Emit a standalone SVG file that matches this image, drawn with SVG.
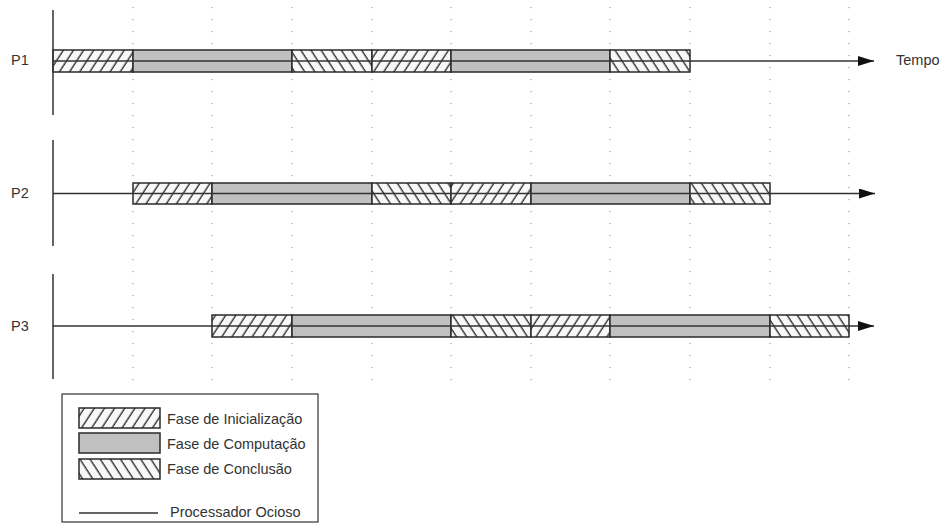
<svg xmlns="http://www.w3.org/2000/svg" width="944" height="527" viewBox="0 0 944 527">
<style>
.grid{stroke:#8c8c8c;stroke-width:1;stroke-dasharray:1.2 10.8;fill:none}
.axis{stroke:#333;stroke-width:1.5;fill:none}
.seg{stroke:#2a2a2a;stroke-width:1.5}
.ini{fill:url(#hIni)}
.comp{fill:#c0c0c0}
.conc{fill:url(#hConc)}
.lbl{font-family:"Liberation Sans",Arial,sans-serif;font-size:14.5px;fill:#333}
</style>
<defs>
<pattern id="hIni" patternUnits="userSpaceOnUse" width="8.5" height="10" patternTransform="rotate(33)">
<rect width="8.5" height="10" fill="#f8f8f8"/>
<line x1="4" y1="-1" x2="4" y2="11" stroke="#222" stroke-width="1.3"/>
</pattern>
<pattern id="hConc" patternUnits="userSpaceOnUse" width="8.5" height="10" patternTransform="rotate(-33)">
<rect width="8.5" height="10" fill="#f8f8f8"/>
<line x1="4" y1="-1" x2="4" y2="11" stroke="#222" stroke-width="1.3"/>
</pattern>
<marker id="arr" viewBox="0 0 16 10" refX="16" refY="5" markerWidth="16" markerHeight="10" markerUnits="userSpaceOnUse" orient="auto">
<path d="M0,0 L16,5 L0,10 Z" fill="#111"/>
</marker>
</defs>
<g id="grid">
<line class="grid" x1="133" y1="7" x2="133" y2="386"/>
<line class="grid" x1="212" y1="7" x2="212" y2="386"/>
<line class="grid" x1="292" y1="7" x2="292" y2="386"/>
<line class="grid" x1="372" y1="7" x2="372" y2="386"/>
<line class="grid" x1="451" y1="7" x2="451" y2="386"/>
<line class="grid" x1="531" y1="7" x2="531" y2="386"/>
<line class="grid" x1="610" y1="7" x2="610" y2="386"/>
<line class="grid" x1="690" y1="7" x2="690" y2="386"/>
<line class="grid" x1="770" y1="7" x2="770" y2="386"/>
<line class="grid" x1="849" y1="7" x2="849" y2="386"/>
</g>
<g id="p1">
<rect class="seg ini" x="53" y="50" width="80" height="22"/>
<rect class="seg comp" x="133" y="50" width="159" height="22"/>
<rect class="seg conc" x="292" y="50" width="80" height="22"/>
<rect class="seg ini" x="372" y="50" width="79" height="22"/>
<rect class="seg comp" x="451" y="50" width="159" height="22"/>
<rect class="seg conc" x="610" y="50" width="80" height="22"/>
<text class="lbl" x="11" y="65">P1</text>
</g>
<g id="p2">
<rect class="seg ini" x="133" y="183" width="79" height="21"/>
<rect class="seg comp" x="212" y="183" width="160" height="21"/>
<rect class="seg conc" x="372" y="183" width="79" height="21"/>
<rect class="seg ini" x="451" y="183" width="80" height="21"/>
<rect class="seg comp" x="531" y="183" width="159" height="21"/>
<rect class="seg conc" x="690" y="183" width="80" height="21"/>
<text class="lbl" x="11" y="198">P2</text>
</g>
<g id="p3">
<rect class="seg ini" x="212" y="315" width="80" height="22"/>
<rect class="seg comp" x="292" y="315" width="159" height="22"/>
<rect class="seg conc" x="451" y="315" width="80" height="22"/>
<rect class="seg ini" x="531" y="315" width="79" height="22"/>
<rect class="seg comp" x="610" y="315" width="160" height="22"/>
<rect class="seg conc" x="770" y="315" width="79" height="22"/>
<text class="lbl" x="11" y="331">P3</text>
</g>
<g id="connectors">
<line class="axis" x1="53" y1="10" x2="53" y2="115"/>
<line class="axis" x1="53" y1="140" x2="53" y2="246"/>
<line class="axis" x1="53" y1="274" x2="53" y2="379"/>
<line class="axis" x1="53" y1="61" x2="874" y2="61" marker-end="url(#arr)"/>
<line class="axis" x1="53" y1="193.5" x2="875" y2="193.5" marker-end="url(#arr)"/>
<line class="axis" x1="53" y1="326" x2="874" y2="326" marker-end="url(#arr)"/>
</g>
<g id="tempo">
<text class="lbl" x="896" y="65">Tempo</text>
</g>
<g id="legend">
<rect x="62" y="394" width="256" height="128" fill="#fff" stroke="#333" stroke-width="1.2"/>
<rect class="seg ini" x="79" y="408" width="81" height="20"/>
<rect class="seg comp" x="79" y="433" width="81" height="20"/>
<rect class="seg conc" x="79" y="459" width="81" height="20"/>
<line class="axis" x1="79" y1="513" x2="158" y2="513"/>
<text class="lbl" x="167" y="424">Fase de Inicialização</text>
<text class="lbl" x="167" y="449">Fase de Computação</text>
<text class="lbl" x="167" y="474">Fase de Conclusão</text>
<text class="lbl" x="170" y="517">Processador Ocioso</text>
</g>
</svg>
